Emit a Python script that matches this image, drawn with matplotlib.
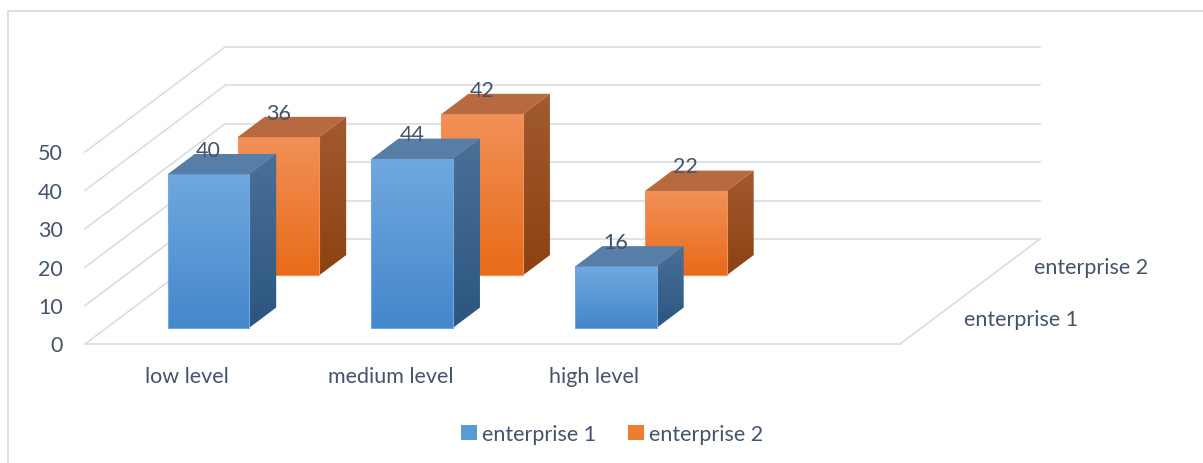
import numpy as np
import matplotlib
matplotlib.use('Agg')
import matplotlib.pyplot as plt
from matplotlib.patches import Polygon, Patch
from matplotlib.colors import LinearSegmentedColormap
from matplotlib.lines import Line2D

plt.rcParams['font.family'] = ['Lato', 'DejaVu Sans']
plt.rcParams['font.size'] = 15.5

# ---- data ----
categories = ['low level', 'medium level', 'high level']
series_names = ['enterprise 1', 'enterprise 2']
enterprise1 = [40, 44, 16]
enterprise2 = [36, 42, 22]
y_ticks = [0, 10, 20, 30, 40, 50]

# ---- style ----
TEXT = '#44546A'
GRID = '#D9DDE3'
# (front top, front bottom, side top, side bottom, top face)
blue = ('#70A8DF', '#4487CB', '#4A7098', '#2B5580', '#577EA7')
orange = ('#F29159', '#E86B18', '#A25A30', '#8C4212', '#B76A3F')
styles = [blue, orange]
legend_colors = ['#5B9BD5', '#ED7D31']

n_slots = 4            # excel keeps an empty 4th slot on the floor
bar_w = 0.4            # fraction of a slot
bar_d = 0.194          # fraction of the full depth
DX, DY = 0.687, 27.34  # oblique shift for the full depth (x in slots, y in values)
px_x, px_y = 203.75, 3.84   # pixels per slot / per value unit
org_x, org_y = 85, 345      # pixel position of the front-left floor corner


def proj(x, d, v):
    return x + d * DX, v + d * DY


def grad_face(ax, verts, c_top, c_bot, z, edge=None):
    poly = Polygon(verts, closed=True, facecolor='none',
                   edgecolor=edge if edge else 'none', lw=0.8, zorder=z + 0.5)
    ax.add_patch(poly)
    xs = [p[0] for p in verts]
    ys = [p[1] for p in verts]
    cmap = LinearSegmentedColormap.from_list('g', [c_bot, c_top])
    grad = np.linspace(0, 1, 256).reshape(-1, 1)
    im = ax.imshow(grad, cmap=cmap, origin='lower', aspect='auto',
                   extent=(min(xs), max(xs), min(ys), max(ys)), zorder=z,
                   interpolation='bilinear')
    im.set_clip_path(poly)


fig = plt.figure(figsize=(12.03, 4.64), dpi=100)
ax = fig.add_axes([0, 0, 1, 1])
ax.axis('off')

# walls and floor
for v in y_ticks:
    ax.plot(*zip(proj(0, 1, v), proj(n_slots, 1, v)), color=GRID, lw=1.2, zorder=1)
    ax.plot(*zip(proj(0, 0, v), proj(0, 1, v)), color=GRID, lw=1.2, zorder=1)
    ax.annotate(str(v), xy=proj(0, 0, v), xytext=(-16, -1), textcoords='offset points',
                ha='right', va='center', color=TEXT)
ax.plot(*zip(proj(0, 0, 0), proj(n_slots, 0, 0)), color=GRID, lw=1.2, zorder=1)
ax.plot(*zip(proj(n_slots, 0, 0), proj(n_slots, 1, 0)), color=GRID, lw=1.2, zorder=1)

for i, c in enumerate(categories):
    ax.annotate(c, xy=proj(i + 0.5, 0, 0), xytext=(0, -23), textcoords='offset points',
                ha='center', va='center', color=TEXT)

# series labels on the depth axis
for s, name in enumerate(series_names):
    ax.annotate(name, xy=proj(n_slots, 0.25 + 0.5 * s, 0), xytext=(21, -1),
                textcoords='offset points', ha='left', va='center', color=TEXT)

# bars, back row first
series = [enterprise1, enterprise2]
z = 2
for s in reversed(range(len(series))):
    ft, fb, st, sb, tp = styles[s]
    d0 = 0.25 + 0.5 * s - bar_d / 2
    d1 = d0 + bar_d
    for i, v in enumerate(series[s]):
        x0 = i + 0.5 - bar_w / 2
        x1 = i + 0.5 + bar_w / 2
        front = [proj(x0, d0, 0), proj(x1, d0, 0), proj(x1, d0, v), proj(x0, d0, v)]
        side = [proj(x1, d0, 0), proj(x1, d1, 0), proj(x1, d1, v), proj(x1, d0, v)]
        top = [proj(x0, d0, v), proj(x1, d0, v), proj(x1, d1, v), proj(x0, d1, v)]
        grad_face(ax, side, st, sb, z)
        grad_face(ax, front, ft, fb, z + 1, edge=ft)
        ax.add_patch(Polygon(top, closed=True, facecolor=tp, edgecolor='none', zorder=z + 2))
        ax.annotate(str(v), xy=(i + 0.5 + d0 * DX, v + d1 * DY), xytext=(0, 3),
                    textcoords='offset points', ha='center', va='center',
                    color=TEXT, zorder=20)
        z += 3

ax.set_xlim(-org_x / px_x, (1203 - org_x) / px_x)
ax.set_ylim((org_y - 464) / px_y, org_y / px_y)

handles = [Patch(facecolor=c, edgecolor='none') for c in legend_colors]
fig.legend(handles, series_names, loc='center', bbox_to_anchor=(612 / 1203, 1 - 435 / 464),
           ncol=2, frameon=False, handlelength=0.75, handleheight=0.75,
           handletextpad=0.2, columnspacing=1.5, labelcolor=TEXT)

# outer chart border (left and top only are inside the picture)
bx, by = 8 / 1203, 1 - 12 / 464
fig.add_artist(Line2D([bx, bx, 1.0], [0.0, by, by], transform=fig.transFigure,
                      color='#D9D9D9', lw=1.2))

fig.savefig('out.png', dpi=100)
